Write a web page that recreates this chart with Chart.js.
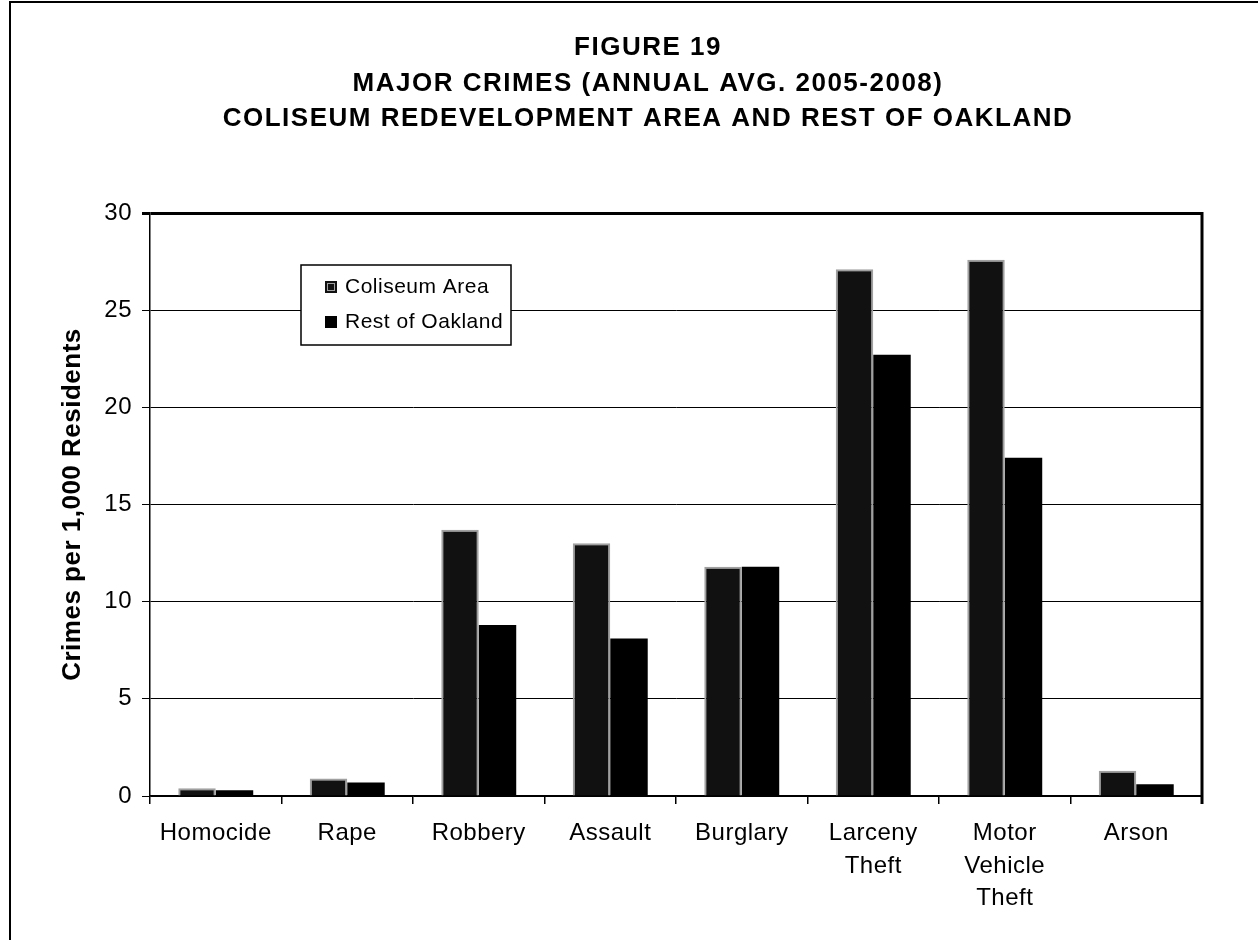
<!DOCTYPE html>
<html>
<head>
<meta charset="utf-8">
<script src="https://cdn.jsdelivr.net/npm/chart.js@4/dist/chart.umd.min.js"></script>
<style>
  html, body { margin: 0; padding: 0; background: #fff; overflow: hidden; }
  #wrap { position: relative; width: 1258px; height: 940px; }
  #frame { position: absolute; left: 9px; top: 1px; width: 1400px; height: 1000px;
           border-left: 2px solid #000; border-top: 2px solid #000; }
  canvas { position: absolute; left: 0; top: 0; }
</style>
</head>
<body>
<div id="wrap">
  <div id="frame"></div>
  <canvas id="crimeChart" width="1258" height="940"></canvas>
</div>
<script>
const crimeTypes = ['Homocide', 'Rape', 'Robbery', 'Assault', 'Burglary', ['Larceny', 'Theft'], ['Motor', 'Vehicle', 'Theft'], 'Arson'];
const coliseumArea = [0.4, 0.9, 13.7, 13.0, 11.8, 27.1, 27.6, 1.3];
const restOfOakland = [0.3, 0.7, 8.8, 8.1, 11.8, 22.7, 17.4, 0.6];
const titleLines = ['FIGURE 19', 'MAJOR CRIMES (ANNUAL AVG. 2005-2008)', 'COLISEUM REDEVELOPMENT AREA AND REST OF OAKLAND'];

const fontName = '"Liberation Sans", Arial, sans-serif';

// the scanned lettering is a touch wider than Arial
const spacing = {
    id: 'spacing',
    beforeLayout(chart) { chart.ctx.letterSpacing = '0.5px'; },
    beforeDraw(chart) { chart.ctx.letterSpacing = '0.5px'; }
};

// title lines, centred on the page frame rather than the canvas
const figTitle = {
    id: 'figTitle',
    afterDraw(chart) {
        const c = chart.ctx;
        c.save();
        c.fillStyle = '#000';
        c.font = 'bold 26px ' + fontName;
        c.letterSpacing = '1.5px';
        c.textAlign = 'center';
        c.textBaseline = 'middle';
        titleLines.forEach((line, i) => {
            c.fillText(line, 648, 48 + i * 35.5);
        });
        c.restore();
    }
};

// legend box inside the plot area + right border of the plot
const boxLegend = {
    id: 'boxLegend',
    afterDraw(chart) {
        const c = chart.ctx;
        const area = chart.chartArea;
        c.save();
        c.strokeStyle = '#000';
        c.lineWidth = 3;
        c.beginPath();
        c.moveTo(area.right, area.top - 1);
        c.lineTo(area.right, area.bottom + 8);
        c.stroke();

        c.lineWidth = 1.5;
        c.fillStyle = '#fff';
        c.fillRect(301, 265, 210, 80);
        c.strokeRect(301, 265, 210, 80);
        c.font = '21px ' + fontName;
        c.textBaseline = 'middle';
        chart.data.datasets.forEach((ds, i) => {
            const y = 287 + i * 35;
            c.fillStyle = ds.backgroundColor;
            c.fillRect(325, y - 6, 12, 12);
            c.strokeStyle = ds.borderColor;
            c.lineWidth = 1;
            c.strokeRect(327.5, y - 3.5, 7, 7);
            c.fillStyle = '#000';
            c.fillText(ds.label, 345, y);
        });
        c.restore();
    }
};

const ctx = document.getElementById('crimeChart').getContext('2d');
const crimeChart = new Chart(ctx, {
    type: 'bar',
    data: {
        labels: crimeTypes,
        datasets: [
            {
                label: 'Coliseum Area',
                data: coliseumArea,
                backgroundColor: '#111111',
                borderColor: '#a0a0a0',
                borderWidth: 2,
                borderSkipped: 'bottom'
            },
            {
                label: 'Rest of Oakland',
                data: restOfOakland,
                backgroundColor: '#000000',
                borderColor: '#000000',
                borderWidth: 0
            }
        ]
    },
    options: {
        responsive: false,
        animation: false,
        datasets: {
            bar: { categoryPercentage: 0.57, barPercentage: 1.0 }
        },
        layout: {
            padding: { top: 213, left: 57, right: 56, bottom: 26 }
        },
        plugins: {
            legend: { display: false },
            title: { display: false },
            tooltip: { enabled: false }
        },
        scales: {
            x: {
                afterFit: scale => { scale.height = 118; },
                grid: {
                    display: true,
                    drawOnChartArea: false,
                    drawTicks: true,
                    tickLength: 8,
                    color: '#000',
                    lineWidth: 1.5
                },
                border: { display: true, color: '#000', width: 1.5 },
                ticks: {
                    color: '#000',
                    font: { family: fontName, size: 24, lineHeight: 1.36 },
                    padding: 13,
                    maxRotation: 0,
                    autoSkip: false
                }
            },
            y: {
                min: 0,
                max: 30,
                afterFit: scale => { scale.width = 93; },
                ticks: {
                    stepSize: 5,
                    color: '#000',
                    font: { family: fontName, size: 24 },
                    padding: 10
                },
                grid: {
                    color: '#000',
                    lineWidth: c => (c.tick && c.tick.value === 30 ? 3 : 1),
                    tickLength: 8,
                    drawTicks: true
                },
                border: { display: true, color: '#000', width: 1.5 },
                title: {
                    display: true,
                    text: 'Crimes per 1,000 Residents',
                    color: '#000',
                    font: { family: fontName, size: 26, weight: 'bold' },
                    padding: { top: 0, bottom: 9 }
                }
            }
        }
    },
    plugins: [spacing, figTitle, boxLegend]
});
</script>
</body>
</html>
